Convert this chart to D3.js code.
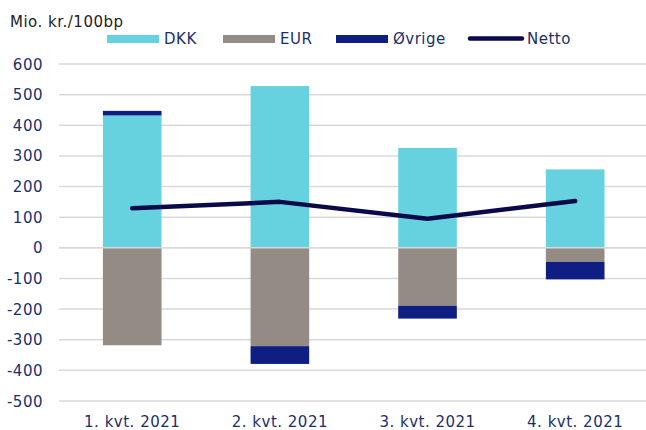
<!DOCTYPE html>
<html>
<head>
<meta charset="utf-8">
<script src="https://cdn.jsdelivr.net/npm/d3@7"></script>
<style>
  body { margin: 0; background: #fff; }
  svg { display: block; font-family: "DejaVu Sans", Verdana, sans-serif; letter-spacing: 0.5px; }
</style>
</head>
<body>
<div id="chart"></div>
<script>
// data
let quarters = ['1. kvt. 2021', '2. kvt. 2021', '3. kvt. 2021', '4. kvt. 2021'];
let dkk = [432, 528, 326, 256];
let eur = [-318, -321, -189, -46];
let oevrige = [15, -58, -42, -57];
let netto = [129, 150, 95, 153];
let yTicks = [600, 500, 400, 300, 200, 100, 0, -100, -200, -300, -400, -500];

let seriesNames = ['DKK', 'EUR', 'Øvrige'];
let colors = {DKK: '#67d2df', EUR: '#948b84', 'Øvrige': '#0f1e82', Netto: '#0a0a4a'};
let textColor = '#1b2f6b';
let fontSize = 15;

let width = 646, height = 430;
let svg = d3.select('#chart').append('svg').attr('width', width).attr('height', height);

let x = d3.scaleBand().domain(quarters).range([58.6, 648.8]).paddingInner(0.603).paddingOuter(0.3);
let y = d3.scaleLinear().domain([-500, 600]).range([401, 64]);

// gridlines
svg.append('g').selectAll('line')
    .data(yTicks)
    .join('line')
    .attr('x1', 59).attr('x2', width)
    .attr('y1', d => y(d)).attr('y2', d => y(d))
    .attr('stroke', '#d9d9d9').attr('stroke-width', 1.5);

// y axis labels
svg.append('g').selectAll('text')
    .data(yTicks)
    .join('text')
    .attr('x', 43).attr('y', d => y(d) + 5.5)
    .attr('text-anchor', 'end')
    .attr('fill', textColor)
    .attr('font-size', fontSize)
    .text(d => d);

// stacked bars: positives stack up from 0, negatives stack down from 0
let stacks = quarters.map((q, i) => {
    let pos = 0, neg = 0;
    return [dkk[i], eur[i], oevrige[i]].map((v, k) => {
        let y0, y1;
        if (v >= 0) { y0 = pos; y1 = pos + v; pos = y1; }
        else { y0 = neg; y1 = neg + v; neg = y1; }
        return {q: q, name: seriesNames[k], y0: y0, y1: y1};
    });
}).flat();

svg.append('g').selectAll('rect')
    .data(stacks)
    .join('rect')
    .attr('x', d => x(d.q))
    .attr('width', x.bandwidth())
    .attr('y', d => y(Math.max(d.y0, d.y1)))
    .attr('height', d => Math.abs(y(d.y0) - y(d.y1)))
    .attr('fill', d => colors[d.name]);

// zero line on top of bars
svg.append('line')
    .attr('x1', 59).attr('x2', width)
    .attr('y1', y(0)).attr('y2', y(0))
    .attr('stroke', '#d9d9d9').attr('stroke-width', 1.5);

// netto line
let line = d3.line()
    .x((d, i) => x(quarters[i]) + x.bandwidth() / 2)
    .y(d => y(d));

svg.append('path')
    .datum(netto)
    .attr('d', line)
    .attr('fill', 'none')
    .attr('stroke', colors.Netto)
    .attr('stroke-width', 4.5)
    .attr('stroke-linecap', 'round')
    .attr('stroke-linejoin', 'round');

// x axis labels
svg.append('g').selectAll('text')
    .data(quarters)
    .join('text')
    .attr('x', d => x(d) + x.bandwidth() / 2)
    .attr('y', 426.5)
    .attr('text-anchor', 'middle')
    .attr('fill', textColor)
    .attr('font-size', fontSize)
    .text(d => d);

// unit label
svg.append('text')
    .attr('x', 10).attr('y', 27)
    .attr('fill', '#222')
    .attr('font-size', fontSize)
    .text('Mio. kr./100bp');

// legend
let legendItems = [
    {name: 'DKK', x: 107, kind: 'rect'},
    {name: 'EUR', x: 223, kind: 'rect'},
    {name: 'Øvrige', x: 336, kind: 'rect'},
    {name: 'Netto', x: 468, kind: 'line'}
];
let legend = svg.append('g');
legendItems.forEach(it => {
    if (it.kind === 'rect') {
        legend.append('rect')
            .attr('x', it.x).attr('y', 35)
            .attr('width', 52).attr('height', 8)
            .attr('fill', colors[it.name]);
    } else {
        legend.append('line')
            .attr('x1', it.x + 2).attr('x2', it.x + 54)
            .attr('y1', 38.5).attr('y2', 38.5)
            .attr('stroke', colors.Netto)
            .attr('stroke-width', 4.5)
            .attr('stroke-linecap', 'round');
    }
    legend.append('text')
        .attr('x', it.kind === 'rect' ? it.x + 57 : it.x + 59)
        .attr('y', 43.5)
        .attr('fill', textColor)
        .attr('font-size', fontSize)
        .text(it.name);
});
</script>
</body>
</html>
